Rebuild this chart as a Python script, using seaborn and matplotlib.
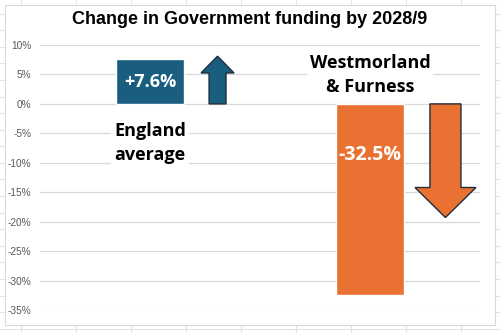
import matplotlib
matplotlib.use("Agg")
import matplotlib.pyplot as plt
import seaborn as sns
import pandas as pd
from matplotlib.patches import FancyArrow, Rectangle
from matplotlib.lines import Line2D

# ---- data ----
categories = ["England average", "Westmorland & Furness"]
label_texts = ["England\naverage", "Westmorland\n& Furness"]
values = [7.6, -32.5]
value_labels = ["+7.6%", "-32.5%"]
yticks = [10, 5, 0, -5, -10, -15, -20, -25, -30, -35]
title = "Change in Government funding by 2028/9"

BLUE = "#195D7F"
ORANGE = "#E97132"
EDGE = "#1E2E3C"
GRID = "#D9D9D9"

sns.set_theme(style="white")
plt.rcParams["font.family"] = ["Liberation Sans", "DejaVu Sans"]

fig = plt.figure(figsize=(5.0, 3.33), dpi=100)
W, H = 500, 333

# spreadsheet background grid
for x in range(21, 500, 55):
    fig.add_artist(Line2D([x / W, x / W], [0, 1], color="#E3E3E3", lw=0.8, zorder=0))
y = 13.5
while y < H:
    fig.add_artist(Line2D([0, 1], [1 - y / H, 1 - y / H], color="#E3E3E3", lw=0.8, zorder=0))
    y += 16.6
# chart area
fig.add_artist(Rectangle((5 / W, 1 - 325 / H), 490 / W, 320 / H, facecolor="white",
                         edgecolor="#D9D9D9", lw=0.8, zorder=1, transform=fig.transFigure))

ax = fig.add_axes([40 / W, 1 - 310 / H, 440 / W, 265 / H], zorder=2)
ax.patch.set_alpha(0)

df = pd.DataFrame({"cat": categories, "val": values})
sns.barplot(data=df, x="cat", y="val", hue="cat", palette=[BLUE, ORANGE],
            width=0.31, legend=False, ax=ax, saturation=1)

ax.set_xlim(-0.5, 1.5)
ax.set_ylim(-35, 10)
ax.set_yticks(yticks)
ax.set_yticklabels([f"{t}%" for t in yticks], fontsize=7.3, color="#595959")
ax.set_xticks([])
ax.set_xlabel("")
ax.set_ylabel("")
ax.tick_params(axis="y", length=0, pad=6)
for s in ax.spines.values():
    s.set_visible(False)
ax.yaxis.grid(True, color=GRID, lw=0.9)
ax.set_axisbelow(True)

OPEN = ["Open Sans", "DejaVu Sans"]
# value labels inside bars
ax.text(0, values[0] / 2, value_labels[0], ha="center", va="center", color="white",
        fontsize=13, fontweight="bold", family=OPEN, zorder=5)
ax.text(1, -8.7, value_labels[1], ha="center", va="center", color="white",
        fontsize=14, fontweight="bold", family=OPEN, zorder=5)

# category labels
ax.text(0, -6.6, label_texts[0], ha="center", va="center", color="black",
        fontsize=13, fontweight="bold", family=OPEN,
        linespacing=1.45, zorder=5,
        bbox=dict(facecolor="white", edgecolor="none", pad=2))
ax.text(1, 4.9, label_texts[1], ha="center", va="center", color="black",
        fontsize=13, fontweight="bold", family=OPEN,
        linespacing=1.45, zorder=5,
        bbox=dict(facecolor="white", edgecolor="none", pad=2))

# arrows
ax.add_patch(FancyArrow(0.307, 0, 0, 8.1, width=0.077, head_width=0.15, head_length=2.85,
                        length_includes_head=True, facecolor=BLUE, edgecolor=EDGE, lw=1.0, zorder=4))
ax.add_patch(FancyArrow(1.343, 0, 0, -19.3, width=0.141, head_width=0.277, head_length=5.1,
                        length_includes_head=True, facecolor=ORANGE, edgecolor=EDGE, lw=1.0, zorder=4))

fig.text(0.5, 1 - 20 / H, title, ha="center", va="center", fontsize=13, fontweight="bold",
         color="black", zorder=3)

fig.savefig("out.png", dpi=100)
